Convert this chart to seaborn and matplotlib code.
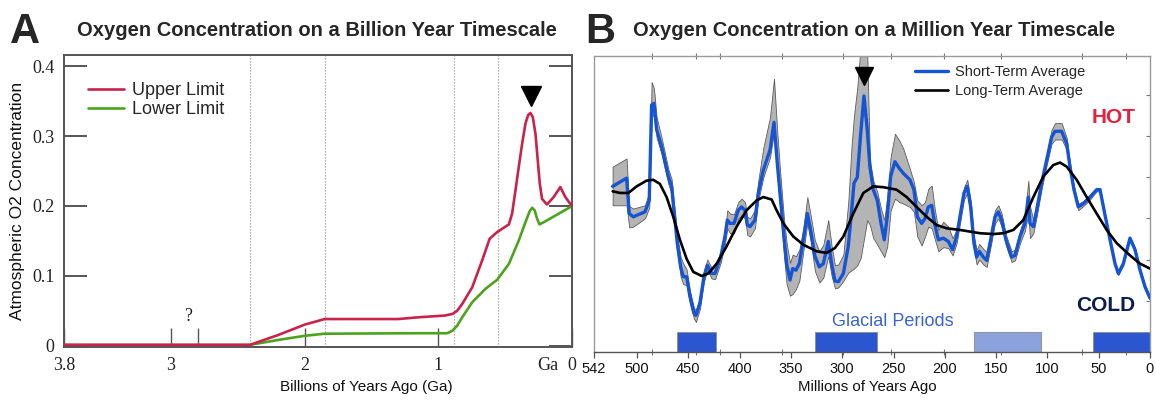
import numpy as np
import pandas as pd
import matplotlib
matplotlib.use("Agg")
import matplotlib.pyplot as plt
import matplotlib.transforms as mtransforms
import seaborn as sns

# ---------------- Panel A: billion-year record (Ga, atmospheric fraction) ----------------
ga_upper = [3.8, 2.41, 2.2, 2.0, 1.85, 1.6, 1.3, 1.144, 0.95, 0.893,
            0.858, 0.821, 0.746, 0.672, 0.616, 0.56, 0.472, 0.448, 0.423, 0.398,
            0.373, 0.348, 0.328, 0.311, 0.293, 0.273, 0.256, 0.241, 0.224, 0.187,
            0.137, 0.087, 0.05, 0.0]
o2_upper = [0.001, 0.001, 0.015, 0.030, 0.038, 0.038, 0.038, 0.0406, 0.043, 0.0454,
            0.050, 0.0597, 0.0836, 0.122, 0.153, 0.1625, 0.1735, 0.189, 0.222, 0.256,
            0.289, 0.318, 0.330, 0.333, 0.327, 0.303, 0.265, 0.232, 0.210, 0.202,
            0.2127, 0.227, 0.2127, 0.1997]
ga_lower = [3.8, 2.41, 2.2, 2.0, 1.85, 1.144, 0.933, 0.893, 0.858, 0.821,
            0.746, 0.647, 0.56, 0.472, 0.398, 0.348, 0.316, 0.298, 0.279, 0.261,
            0.243, 0.199, 0.100, 0.0]
o2_lower = [0.001, 0.001, 0.008, 0.014, 0.017, 0.0177, 0.0177, 0.0215, 0.0287, 0.0406,
            0.0621, 0.0813, 0.0942, 0.117, 0.1505, 0.1768, 0.1926, 0.1974, 0.1935, 0.1816,
            0.1735, 0.178, 0.1888, 0.1997]
era_boundaries_ga = [2.41, 1.85, 0.88, 0.55]
peak_a_ga, peak_a_o2 = 0.31, 0.357
a_yticks = [0, 0.1, 0.2, 0.3, 0.4]
a_yticklabels = ["0", "0.1", "0.2", "0.3", "0.4"]
a_xticks = [3.8, 3, 2, 1, 0]
a_xticklabels = ["3.8", "3", "2", "1", "0"]

# ---------------- Panel B: million-year record (Ma, O2 %) ----------------
short_age = [523.8, 510.2, 507.6, 503.7, 492.3, 488.1, 485.8, 483.5, 480.9, 476.0,
             469.5, 466.3, 464.7, 460.8, 457.5, 454.9, 451.7, 448.4, 444.5, 442.6,
             438.7, 434.8, 431.5, 427.3, 424.0, 418.5, 414.3, 412.0, 409.4, 405.5,
             401.3, 398.1, 394.8, 392.5, 389.9, 385.1, 381.8, 376.9, 370.4, 366.5,
             363.3, 360.7, 356.8, 354.2, 350.9, 348.3, 345.1, 341.8, 337.9, 334.0,
             330.8, 326.6, 322.3, 318.4, 313.6, 310.3, 307.1, 303.8, 298.9, 294.1,
             290.8, 288.5, 285.3, 282.0, 278.8, 275.6, 273.0, 269.7, 265.8, 262.2,
             259.0, 256.1, 252.8, 248.6, 244.4, 240.5, 234.0, 230.1, 226.8, 222.6,
             219.3, 216.1, 212.8, 209.6, 206.3, 201.5, 196.6, 192.4, 188.5, 185.2,
             181.3, 178.1, 174.8, 171.6, 169.0, 166.4, 162.5, 159.2, 155.3, 151.1,
             147.8, 144.6, 140.4, 134.9, 131.6, 126.7, 121.9, 118.6, 117.0, 113.7,
             110.5, 105.6, 100.7, 95.9, 92.6, 86.1, 81.2, 78.0, 74.1, 69.9,
             65.0, 58.5, 52.0, 48.7, 44.8, 39.6, 34.1, 30.9, 26.0, 19.5,
             14.6, 9.7, 4.9, 0.0]
short_o2 = [28.9, 29.9, 25.6, 25.2, 25.8, 27.2, 38.8, 39.0, 35.8, 33.7,
            30.1, 28.9, 26.8, 22.0, 19.1, 17.9, 17.9, 15.5, 13.5, 13.2,
            14.7, 17.9, 19.3, 18.3, 18.3, 20.3, 22.8, 24.8, 24.4, 24.4,
            26.0, 26.4, 26.0, 24.2, 24.0, 24.8, 28.1, 30.9, 33.3, 36.7,
            31.7, 28.1, 22.8, 19.5, 17.5, 18.9, 18.7, 19.5, 22.4, 25.6,
            23.6, 20.4, 19.1, 19.5, 22.2, 19.5, 17.4, 17.3, 18.3, 21.6,
            26.0, 29.3, 30.0, 35.3, 39.9, 35.8, 31.3, 28.5, 27.2, 24.4,
            22.4, 25.2, 30.1, 31.9, 31.1, 30.5, 29.7, 28.5, 25.2, 24.4,
            25.0, 26.4, 26.6, 24.2, 22.4, 22.6, 22.2, 21.2, 22.8, 25.2,
            28.1, 28.9, 26.4, 22.0, 20.3, 21.0, 20.3, 19.9, 22.4, 25.2,
            25.8, 24.8, 22.4, 20.3, 20.5, 22.8, 24.4, 27.6, 24.4, 24.0,
            26.0, 29.3, 32.1, 34.9, 35.6, 35.6, 34.1, 31.3, 28.5, 26.4,
            26.8, 27.6, 28.5, 28.5, 26.0, 22.8, 19.5, 18.3, 19.5, 22.6,
            21.2, 18.7, 16.7, 15.3]
band_hi = [31.3, 32.3, 26.5, 26.2, 26.6, 28.2, 41.6, 40.8, 37.3, 34.8,
           31.0, 29.8, 27.8, 22.9, 20.3, 19.5, 18.8, 16.2, 14.1, 13.8,
           15.3, 18.6, 20.0, 19.0, 19.0, 21.0, 23.6, 26.0, 25.6, 25.5,
           27.0, 27.4, 27.0, 25.2, 25.0, 26.0, 29.6, 33.6, 37.3, 42.0,
           35.5, 31.0, 25.0, 22.0, 19.6, 20.6, 20.4, 21.2, 23.8, 27.6,
           25.4, 22.3, 21.0, 21.8, 24.8, 21.6, 19.3, 19.4, 20.6, 27.0,
           34.0, 37.5, 41.0, 46.0, 46.0, 45.0, 32.0, 29.6, 28.2, 26.2,
           24.8, 27.6, 32.5, 35.3, 34.5, 33.5, 31.0, 29.4, 27.2, 26.6,
           27.0, 28.6, 29.0, 26.0, 23.6, 24.6, 24.0, 22.6, 23.6, 26.0,
           28.8, 29.7, 27.2, 22.8, 21.2, 21.9, 21.3, 20.9, 23.2, 26.0,
           26.6, 25.6, 23.0, 21.0, 21.2, 23.5, 25.4, 29.6, 26.5, 24.8,
           26.8, 29.8, 32.7, 35.8, 36.6, 36.6, 34.8, 31.8, 28.9, 26.8,
           27.1, 27.9, 28.7, 28.7, 26.3, 23.0, 19.7, 18.5, 19.7, 22.8,
           21.4, 18.9, 16.9, 15.5]
band_lo = [26.6, 26.6, 23.9, 24.0, 25.0, 26.3, 37.2, 37.9, 34.8, 32.8,
           29.2, 28.0, 26.0, 21.0, 17.9, 17.0, 16.9, 14.6, 12.8, 12.4,
           14.0, 17.3, 18.7, 17.7, 17.6, 19.6, 21.9, 23.8, 23.2, 23.2,
           25.0, 25.4, 25.0, 23.0, 22.8, 23.8, 27.2, 30.0, 32.4, 35.6,
           30.2, 26.6, 20.5, 17.0, 15.6, 15.8, 16.4, 17.4, 21.0, 24.4,
           22.2, 18.6, 17.2, 17.8, 20.4, 18.0, 16.5, 16.6, 17.4, 18.4,
           18.7, 18.9, 19.3, 20.2, 22.5, 24.8, 24.2, 22.6, 21.8, 21.0,
           20.3, 21.6, 26.0, 27.4, 27.0, 26.8, 26.4, 25.8, 22.8, 21.7,
           22.8, 24.0, 23.8, 22.4, 21.0, 21.5, 21.4, 20.5, 22.0, 24.4,
           27.3, 28.1, 25.7, 21.2, 19.4, 20.0, 19.4, 19.1, 21.6, 24.4,
           25.0, 24.0, 21.7, 19.7, 19.9, 22.0, 23.5, 25.6, 22.6, 23.2,
           25.2, 28.6, 31.5, 34.1, 34.6, 34.6, 33.4, 30.7, 28.1, 26.0,
           26.5, 27.3, 28.3, 28.3, 25.8, 22.6, 19.3, 18.1, 19.3, 22.4,
           21.0, 18.5, 16.5, 15.1]
long_age = [523.8, 516.7, 508.5, 500.4, 490.7, 484.2, 477.7, 471.2, 464.7, 458.2,
            451.7, 445.2, 437.0, 430.5, 422.4, 412.7, 402.9, 393.2, 383.4, 376.9,
            368.8, 364.0, 357.4, 347.7, 337.9, 324.9, 315.2, 307.1, 298.9, 289.2,
            279.4, 269.7, 260.0, 247.0, 237.2, 227.5, 217.7, 208.0, 198.2, 185.2,
            175.5, 165.7, 152.7, 143.0, 133.2, 123.5, 113.7, 104.0, 94.2, 87.7,
            81.2, 71.5, 61.7, 52.0, 42.2, 32.5, 19.5, 9.7, 0.0]
long_o2 = [28.3, 28.1, 28.1, 28.9, 29.6, 29.7, 29.2, 27.6, 25.2, 22.4,
           20.1, 18.5, 18.0, 18.3, 19.5, 21.6, 24.0, 26.0, 27.2, 27.6,
           27.3, 26.0, 24.4, 22.8, 21.8, 21.0, 20.8, 21.4, 22.8, 25.6,
           28.1, 28.9, 28.8, 28.5, 27.6, 26.4, 25.2, 24.2, 23.8, 23.6,
           23.4, 23.2, 23.1, 23.2, 23.6, 24.8, 27.6, 30.1, 31.5, 31.8,
           31.3, 29.7, 27.6, 25.6, 23.6, 22.0, 20.5, 19.5, 18.9]
glacial_start = [461.5, 327.0, 171.8, 55.7]
glacial_end = [423.5, 266.0, 106.7, 0.0]
glacial_confirmed = [True, True, False, True]
period_bounds = [485, 443, 419, 359, 299, 252, 201, 145, 66, 23]
peak_b_age, peak_b_o2 = 278.8, 42.3
b_xticks = [542, 500, 450, 400, 350, 300, 250, 200, 150, 100, 50, 0]
b_yticks = [10, 15, 20, 25, 30, 35, 40]

RED = "#c8234b"
GREEN = "#4da31f"
BLUE = "#1554d4"
BAR_DARK = "#2c56cf"
BAR_LIGHT = "#8ba2dc"

sns.set_theme(style="white")
plt.rcParams["font.family"] = ["Liberation Sans", "DejaVu Sans"]
SERIF = ["Liberation Serif", "DejaVu Serif"]

fig = plt.figure(figsize=(11.56, 4.01), dpi=100)
axA = fig.add_axes([0.0554, 0.1347, 0.4394, 0.7281])
axB = fig.add_axes([0.5138, 0.1222, 0.4810, 0.7381])

# ---------------- Panel A ----------------
for g in era_boundaries_ga:
    axA.axvline(g, color="#9c9c9c", ls=(0, (1, 1.4)), lw=0.9, zorder=0)

dfA_up = pd.DataFrame({"ga": ga_upper, "o2": o2_upper})
dfA_lo = pd.DataFrame({"ga": ga_lower, "o2": o2_lower})
sns.lineplot(data=dfA_up, x="ga", y="o2", ax=axA, color=RED, lw=1.9,
             estimator=None, sort=False, label="Upper Limit", zorder=3)
sns.lineplot(data=dfA_lo, x="ga", y="o2", ax=axA, color=GREEN, lw=1.9,
             estimator=None, sort=False, label="Lower Limit", zorder=2)
axA.plot([peak_a_ga], [peak_a_o2], marker="v", ms=14.5, color="black", ls="none")

axA.set_xlim(3.8, 0)
axA.set_ylim(-0.002, 0.416)
axA.set_yticks(a_yticks)
axA.set_yticklabels(a_yticklabels, fontfamily=SERIF, fontsize=13, color="#222222")
axA.set_xticks(a_xticks)
axA.set_xticklabels(a_xticklabels, fontfamily=SERIF, fontsize=13, color="#222222")
axA.set_xticks([2.8], minor=True)
axA.tick_params(axis="y", which="major", direction="in", length=16.5, width=1.4,
                color="#555555", left=True, right=True, pad=7)
axA.tick_params(axis="x", which="both", direction="in", length=14, width=1.0,
                color="#555555", bottom=True, top=False, pad=7)
for s in axA.spines.values():
    s.set_color("#555555")
    s.set_linewidth(1.4)
axA.text(2.87, 0.041, "?", fontfamily=SERIF, fontsize=13, ha="center", va="center",
         color="#222222")
transA = mtransforms.blended_transform_factory(axA.transData, axA.transAxes)
axA.text(0.18, -0.062, "Ga", transform=transA, fontfamily=SERIF, fontsize=13,
         ha="center", va="center", color="#222222")
axA.set_xlabel("Billions of Years Ago (Ga)", fontsize=11, color="#111111")
axA.xaxis.set_label_coords(0.596, -0.112)
axA.set_ylabel("Atmospheric O2 Concentration", fontsize=12.5, color="#111111")
axA.yaxis.set_label_coords(-0.077, 0.5)
axA.legend(loc="upper left", bbox_to_anchor=(0.015, 0.962), frameon=False,
           fontsize=13, handlelength=2.0, handletextpad=0.45, labelspacing=0.1)

# ---------------- Panel B ----------------
axB.fill_between(short_age, band_lo, band_hi, color="#b4b4b4", edgecolor="#5c5c5c",
                 lw=0.6, zorder=1)
dfB_short = pd.DataFrame({"age": short_age, "o2": short_o2})
dfB_long = pd.DataFrame({"age": long_age, "o2": long_o2})
sns.lineplot(data=dfB_short, x="age", y="o2", ax=axB, color=BLUE, lw=2.4,
             estimator=None, sort=False, label="Short-Term Average", zorder=3)
sns.lineplot(data=dfB_long, x="age", y="o2", ax=axB, color="black", lw=1.9,
             estimator=None, sort=False, label="Long-Term Average", zorder=4)
axB.plot([peak_b_age], [peak_b_o2], marker="v", ms=13.5, color="black", ls="none",
         zorder=5)

y_floor, y_bar_top = 8.75, 11.2
for s0, s1, ok in zip(glacial_start, glacial_end, glacial_confirmed):
    axB.bar(s1, y_bar_top - y_floor, width=s0 - s1, bottom=y_floor, align="edge",
            color=BAR_DARK if ok else BAR_LIGHT, edgecolor="#8a8a8a", lw=0.6, zorder=2)

axB.set_xlim(542, 0)
axB.set_ylim(y_floor, 44.76)
axB.set_xticks(b_xticks)
axB.set_xticklabels([str(v) for v in b_xticks], fontsize=10.5, color="#111111")
axB.set_xticks(period_bounds, minor=True)
axB.set_yticks(b_yticks)
axB.tick_params(axis="x", which="major", direction="out", length=4, width=0.9,
                color="#555555", bottom=True, top=False, pad=3)
axB.tick_params(axis="x", which="minor", direction="inout", length=4, width=0.8,
                color="#777777", bottom=True, top=True)
axB.tick_params(axis="y", which="major", direction="in", length=3, width=0.8,
                color="#777777", left=False, right=True, labelleft=False,
                labelright=False)
for name, s in axB.spines.items():
    s.set_color("#555555" if name == "bottom" else "#9a9a9a")
    s.set_linewidth(1.0)
axB.set_xlabel("Millions of Years Ago", fontsize=10.8, color="#111111")
axB.xaxis.set_label_coords(0.492, -0.093)
axB.set_ylabel("")
axB.legend(loc="upper left", bbox_to_anchor=(0.553, 1.013), frameon=False,
           fontsize=10.5, handlelength=2.3, handletextpad=0.5, labelspacing=0.35)

axB.text(250.5, 12.4, "Glacial Periods", color="#3b63d1", fontsize=13,
         ha="center", va="center")
axB.text(35, 37.3, "HOT", color="#e5213f", fontsize=15, fontweight="bold",
         ha="center", va="center")
axB.text(43.6, 14.4, "COLD", color="#0c1d4d", fontsize=15, fontweight="bold",
         ha="center", va="center")

# ---------------- Panel letters and titles ----------------
fig.text(0.0087, 0.92, "A", fontsize=30, fontweight="bold", ha="left", va="center")
fig.text(0.274, 0.925, "Oxygen Concentration on a Billion Year Timescale",
         fontsize=14.5, fontweight="bold", ha="center", va="center")
fig.text(0.506, 0.92, "B", fontsize=30, fontweight="bold", ha="left", va="center")
fig.text(0.7565, 0.925, "Oxygen Concentration on a Million Year Timescale",
         fontsize=14.5, fontweight="bold", ha="center", va="center")

fig.savefig("out.png", dpi=100)
